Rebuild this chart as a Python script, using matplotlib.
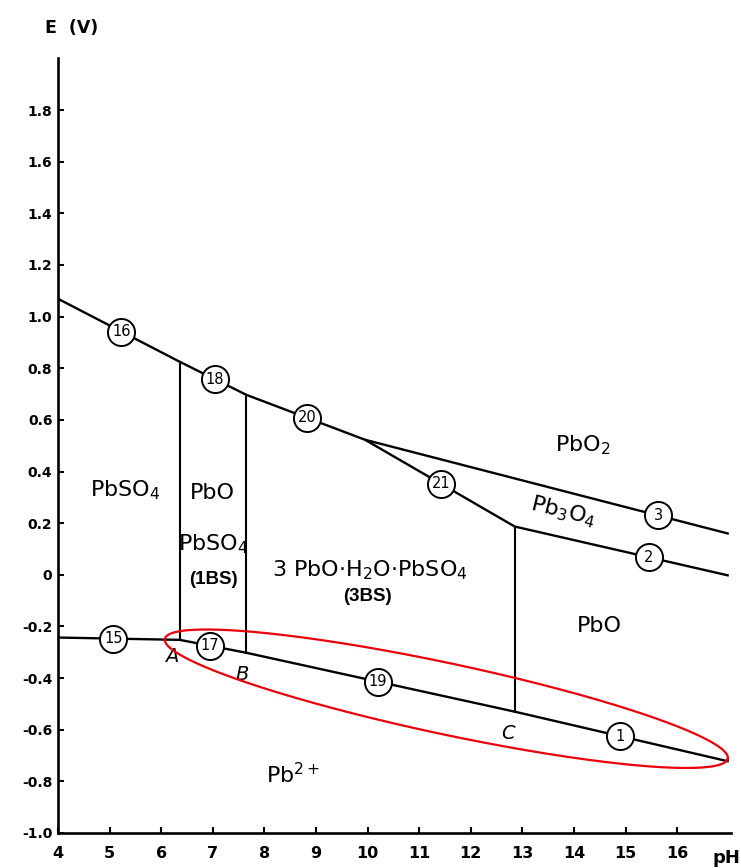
import numpy as np
import matplotlib
matplotlib.use("Agg")
import matplotlib.pyplot as plt

plt.rcParams['font.family'] = ['DejaVu Sans']
plt.rcParams['mathtext.fontset'] = 'dejavusans'

# ---- data (pH, E in V) ----
# upper boundary: PbSO4/PbO2 (16), 1BS/PbO2 (18), 3BS/PbO2 (20), PbO2/Pb3O4 (3)
upper_ph = [4.0, 6.36, 7.65, 9.95, 17.0]
upper_e = [1.069, 0.825, 0.697, 0.523, 0.159]
# 3BS/Pb3O4 (21), PbO/Pb3O4 (2)
mid_ph = [9.95, 12.85, 17.0]
mid_e = [0.523, 0.187, -0.003]
# lower boundary: Pb/PbSO4 (15), Pb/1BS (17), Pb/3BS (19), Pb/PbO (1)
lower_ph = [4.0, 6.36, 7.65, 12.85, 17.0]
lower_e = [-0.243, -0.252, -0.302, -0.530, -0.723]
# vertical boundaries A, B, C
vert_ph = [6.36, 7.65, 12.85]
vert_top = [0.825, 0.697, 0.187]
vert_bot = [-0.252, -0.302, -0.530]
vert_names = ['A', 'B', 'C']
vert_label_ph = [6.20, 7.57, 12.73]
vert_label_e = [-0.316, -0.387, -0.613]

# numbered reaction markers: (number, pH) on each boundary
circ_upper = [('16', 5.23), ('18', 7.04), ('20', 8.83), ('3', 15.63)]
circ_mid = [('21', 11.42), ('2', 15.45)]
circ_lower = [('15', 5.07), ('17', 6.95), ('19', 10.2), ('1', 14.89)]

regions = [
    ('PbSO$_4$', 5.30, 0.329, 0),
    ('PbO', 7.00, 0.318, 0),
    ('PbSO$_4$', 7.00, 0.118, 0),
    ('3 PbO·H$_2$O·PbSO$_4$', 10.05, 0.019, 0),
    ('PbO$_2$', 14.17, 0.503, 0),
    ('Pb$_3$O$_4$', 13.79, 0.245, -14),
    ('PbO', 14.50, -0.200, 0),
    ('Pb$^{2+}$', 8.55, -0.775, 0),
]
bold_labels = [('(1BS)', 7.01, -0.019), ('(3BS)', 9.99, -0.084)]

xticks = list(range(4, 17))
xtick_labels = [str(v) for v in xticks]
yticks = [round(-1.0 + 0.2 * i, 1) for i in range(15)]
ytick_labels = ['-1.0', '-0.8', '-0.6', '-0.4', '-0.2', '0', '0.2', '0.4',
                '0.6', '0.8', '1.0', '1.2', '1.4', '1.6', '1.8']

# ellipse (highlight) ends in data coords
ell_left = (6.07, -0.248)
ell_right = (16.98, -0.712)

# ---- figure ----
W, H = 741, 868
fig = plt.figure(figsize=(W / 100, H / 100), dpi=100)
ax = fig.add_axes([58 / W, (H - 833) / H, 673.4 / W, 774.6 / H])
ax.set_xlim(4, 17.05)
ax.set_ylim(-1.0, 2.0)

for s in ['top', 'right']:
    ax.spines[s].set_visible(False)
for s in ['left', 'bottom']:
    ax.spines[s].set_linewidth(1.9)

ax.set_xticks(xticks)
ax.set_xticklabels(xtick_labels, fontsize=11.5, fontweight='bold')
ax.set_yticks(yticks)
ax.set_yticklabels(ytick_labels, fontsize=10, fontweight='bold')
ax.tick_params(axis='both', direction='in', length=4, width=1.5, color='black')
ax.tick_params(axis='x', pad=9)
ax.tick_params(axis='y', pad=4)

lw = 1.7
ax.plot(upper_ph, upper_e, color='black', lw=lw, solid_capstyle='butt')
ax.plot(mid_ph, mid_e, color='black', lw=lw, solid_capstyle='butt')
ax.plot(lower_ph, lower_e, color='black', lw=lw, solid_capstyle='butt')
for xp, t, b in zip(vert_ph, vert_top, vert_bot):
    ax.plot([xp, xp], [b, t], color='black', lw=1.5)

for name, xp, yp in zip(vert_names, vert_label_ph, vert_label_e):
    ax.text(xp, yp, name, fontsize=14, style='italic', ha='center', va='center')


def circ(lbl, phs, es, xp):
    ep = np.interp(xp, phs, es)
    ax.plot([xp], [ep], 'o', ms=19.5, mfc='white', mec='black', mew=1.4, zorder=5)
    ax.text(xp, ep, lbl, fontsize=10.5, ha='center', va='center', zorder=6)


for lbl, xp in circ_upper:
    circ(lbl, upper_ph, upper_e, xp)
for lbl, xp in circ_mid:
    circ(lbl, mid_ph, mid_e, xp)
for lbl, xp in circ_lower:
    circ(lbl, lower_ph, lower_e, xp)

for txt, xp, yp, rot in regions:
    ax.text(xp, yp, txt, fontsize=16, ha='center', va='center', rotation=rot,
            rotation_mode='anchor')
for txt, xp, yp in bold_labels:
    ax.text(xp, yp, txt, fontsize=13.5, ha='center', va='center',
            fontweight='bold', family=['Liberation Sans', 'DejaVu Sans'])

# highlight ellipse, built in display space
p1 = ax.transData.transform(ell_left)
p2 = ax.transData.transform(ell_right)
c = (p1 + p2) / 2
d = p2 - p1
a = np.hypot(*d) / 2
u = d / (2 * a)
v = np.array([-u[1], u[0]])
b = 35.5
t = np.linspace(0, 2 * np.pi, 400)
pts = c + np.outer(a * np.cos(t), u) + np.outer(b * np.sin(t), v)
dpts = ax.transData.inverted().transform(pts)
ax.plot(dpts[:, 0], dpts[:, 1], color='#e8000b', lw=1.6, clip_on=False, zorder=7)

fig.text(45 / W, 1 - 28 / H, 'E  (V)', fontsize=12.5, fontweight='bold',
         ha='left', va='center')
fig.text(712 / W, 1 - 858 / H, 'pH', fontsize=13, fontweight='bold',
         ha='left', va='center')

fig.savefig('out.png', dpi=100)
